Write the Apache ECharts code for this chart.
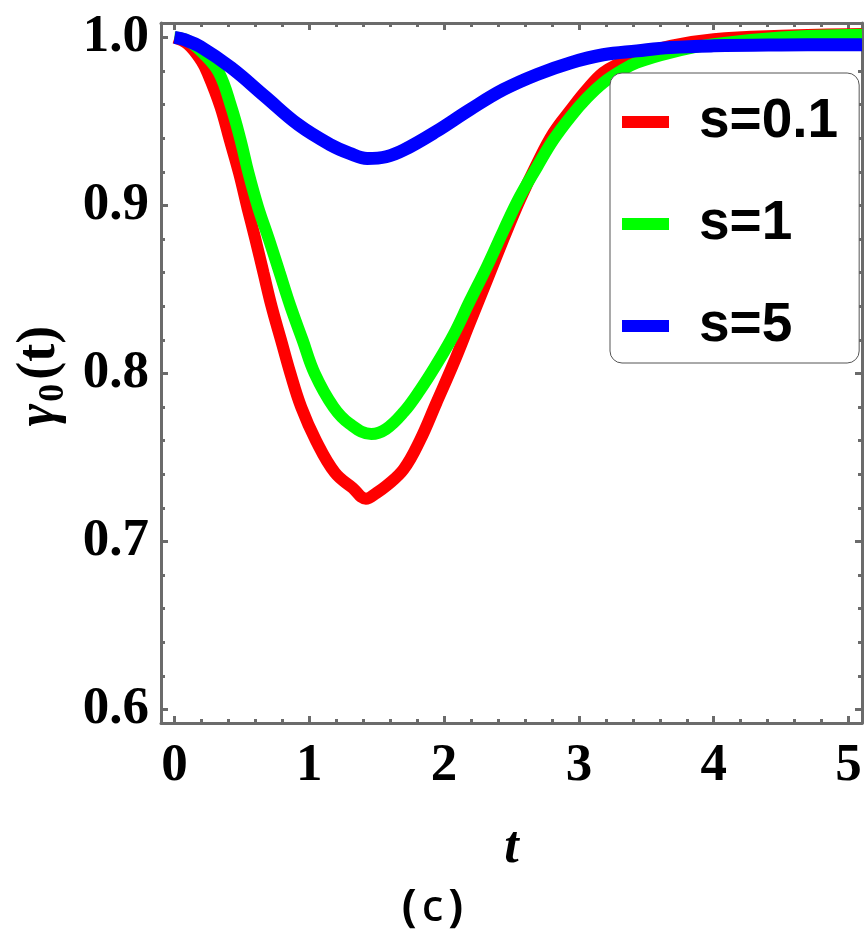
<!DOCTYPE html>
<html>
<head>
<meta charset="utf-8">
<script src="https://cdn.jsdelivr.net/npm/echarts@6/dist/echarts.min.js"></script>
<style>html,body{margin:0;padding:0;background:#fff;}#c{width:865px;height:935px;}</style>
</head>
<body>
<div id="c"></div>
<script>
// ---- data ----
const seriesNames = ['s=0.1', 's=1', 's=5'];

const tRed = [0, 0.1, 0.2, 0.25, 0.34, 0.41, 0.48, 0.54, 0.60, 0.66, 0.72, 0.79, 0.86, 0.94, 1.05, 1.19, 1.32, 1.42, 1.50, 1.57, 1.70, 1.82, 1.94, 2.07, 2.19, 2.32, 2.44, 2.56, 2.69, 2.81, 2.94, 3.06, 3.18, 3.31, 3.43, 3.68, 4.0, 4.5, 5.1];
const vRed = [1.0, 0.996, 0.986, 0.978, 0.959, 0.939, 0.919, 0.899, 0.880, 0.860, 0.840, 0.820, 0.800, 0.780, 0.760, 0.741, 0.732, 0.7255, 0.729, 0.733, 0.743, 0.760, 0.782, 0.806, 0.830, 0.856, 0.880, 0.903, 0.925, 0.943, 0.957, 0.969, 0.979, 0.985, 0.989, 0.995, 0.999, 1.001, 1.002];

const tGreen = [0, 0.1, 0.22, 0.33, 0.42, 0.49, 0.55, 0.62, 0.70, 0.78, 0.86, 0.95, 1.04, 1.18, 1.30, 1.46, 1.57, 1.70, 1.82, 1.94, 2.07, 2.19, 2.32, 2.44, 2.56, 2.69, 2.81, 2.94, 3.06, 3.18, 3.31, 3.43, 3.68, 4.0, 4.5, 5.1];
const vGreen = [1.0, 0.998, 0.990, 0.979, 0.959, 0.939, 0.919, 0.899, 0.880, 0.860, 0.840, 0.820, 0.800, 0.780, 0.770, 0.764, 0.767, 0.777, 0.790, 0.805, 0.823, 0.843, 0.864, 0.885, 0.905, 0.923, 0.939, 0.953, 0.964, 0.973, 0.980, 0.985, 0.991, 0.996, 1.0, 1.0016];

const tBlue = [0, 0.08, 0.19, 0.42, 0.67, 0.92, 1.16, 1.30, 1.43, 1.57, 1.70, 1.94, 2.19, 2.44, 2.69, 2.94, 3.18, 3.43, 3.68, 4.0, 4.5, 5.1];
const vBlue = [1.0, 0.9985, 0.9946, 0.982, 0.965, 0.948, 0.936, 0.931, 0.928, 0.929, 0.933, 0.944, 0.957, 0.969, 0.978, 0.985, 0.9897, 0.992, 0.994, 0.995, 0.9955, 0.9957];

const xTicks = [0, 1, 2, 3, 4, 5];
const xMinorTicks = [0.2, 0.4, 0.6, 0.8, 1.2, 1.4, 1.6, 1.8, 2.2, 2.4, 2.6, 2.8, 3.2, 3.4, 3.6, 3.8, 4.2, 4.4, 4.6, 4.8];
const yTicks = [0.6, 0.7, 0.8, 0.9, 1.0];
const yMinorTicks = [0.62, 0.64, 0.66, 0.68, 0.72, 0.74, 0.76, 0.78, 0.82, 0.84, 0.86, 0.88, 0.92, 0.94, 0.96, 0.98];

// ---- chart ----
const pairs = (ts, vs) => ts.map((t, i) => [t, vs[i]]);
const colors = ['#ff0000', '#00ff00', '#0000ff'];
const AX = '#6b6b6b';
const X_MIN = -0.1, X_MAX = 5.1, Y_MIN = 0.592, Y_MAX = 1.0086;
const serifLbl = { fontFamily: 'Liberation Serif', fontWeight: 'bold', fontSize: 53, color: '#000' };

function xAx(pos, vals, len, major, showLabel) {
  return {
    type: 'value', position: pos, min: X_MIN, max: X_MAX,
    axisLine: { show: major, onZero: false, lineStyle: { color: AX, width: 3 } },
    axisTick: { show: true, inside: true, length: len, customValues: vals, lineStyle: { color: AX, width: 3 } },
    axisLabel: showLabel ? Object.assign({ show: true, margin: 17, customValues: vals, formatter: v => String(v) }, serifLbl) : { show: false },
    splitLine: { show: false }
  };
}
function yAx(pos, vals, len, major, showLabel) {
  return {
    type: 'value', position: pos, min: Y_MIN, max: Y_MAX,
    axisLine: { show: major, onZero: false, lineStyle: { color: AX, width: 3 } },
    axisTick: { show: true, inside: true, length: len, customValues: vals, lineStyle: { color: AX, width: 3 } },
    axisLabel: showLabel ? Object.assign({ show: true, margin: 12, customValues: vals, formatter: v => v.toFixed(1) }, serifLbl) : { show: false },
    splitLine: { show: false }
  };
}

const xAxes = [
  xAx('bottom', xTicks, 7, true, true),
  xAx('bottom', xMinorTicks, 4, false, false),
  xAx('top', xTicks, 7, true, false),
  xAx('top', xMinorTicks, 4, false, false)
];
xAxes[0].name = 't';
xAxes[0].nameLocation = 'middle';
xAxes[0].nameGap = 100;
xAxes[0].nameTextStyle = { fontFamily: 'Liberation Serif', fontWeight: 'bold', fontStyle: 'italic', fontSize: 52, color: '#000' };

const yAxes = [
  yAx('left', yTicks, 7, true, true),
  yAx('left', yMinorTicks, 4, false, false),
  yAx('right', yTicks, 7, true, false),
  yAx('right', yMinorTicks, 4, false, false)
];

const data = [pairs(tRed, vRed), pairs(tGreen, vGreen), pairs(tBlue, vBlue)];

const chart = echarts.init(document.getElementById('c'), null, { renderer: 'canvas' });
chart.setOption({
  animation: false,
  backgroundColor: '#fff',
  grid: { left: 161, right: 3, top: 23, bottom: 212, containLabel: false },
  title: {
    text: '{p|(}{c|c}{p|)}',
    left: 'center', top: 886, padding: 0,
    textStyle: {
      rich: {
        p: { fontFamily: 'Noto Sans', fontSize: 44, color: '#000' },
        c: { fontFamily: 'Noto Sans', fontSize: 44, fontWeight: 500, color: '#000', padding: [0, 5, 0, 5] }
      }
    }
  },
  graphic: [{
    type: 'text', x: 40, y: 376, rotation: Math.PI / 2, silent: true,
    style: {
      text: '{g|γ}{s|0}{n|(t)}', align: 'center', verticalAlign: 'middle',
      rich: {
        g: { fontFamily: 'Liberation Serif', fontWeight: 'bold', fontStyle: 'italic', fontSize: 54, fill: '#000' },
        s: { fontFamily: 'Liberation Serif', fontWeight: 'bold', fontSize: 36, fill: '#000', padding: [28, 4, 0, 2] },
        n: { fontFamily: 'Liberation Serif', fontWeight: 'bold', fontSize: 54, fill: '#000' }
      }
    }
  }],
  legend: {
    orient: 'vertical', left: 610, top: 73,
    padding: [13, 21, 1, 12],
    itemGap: 30, itemWidth: 47, itemHeight: 12,
    icon: 'rect',
    backgroundColor: '#fff',
    borderColor: '#555', borderWidth: 1, borderRadius: 12,
    data: seriesNames,
    textStyle: { fontFamily: 'Liberation Sans', fontWeight: 'bold', fontSize: 55, color: '#000', lineHeight: 44, padding: [0, 0, 28, 25] }
  },
  xAxis: xAxes,
  yAxis: yAxes,
  series: data.map((d, i) => ({
    name: seriesNames[i], type: 'line', xAxisIndex: 0, yAxisIndex: 0,
    data: d, showSymbol: false, symbol: 'none', smooth: 0.4,
    lineStyle: { color: colors[i], width: i === 2 ? 13 : 12 },
    itemStyle: { color: colors[i] },
    z: 2 + i
  }))
});
</script>
</body>
</html>
